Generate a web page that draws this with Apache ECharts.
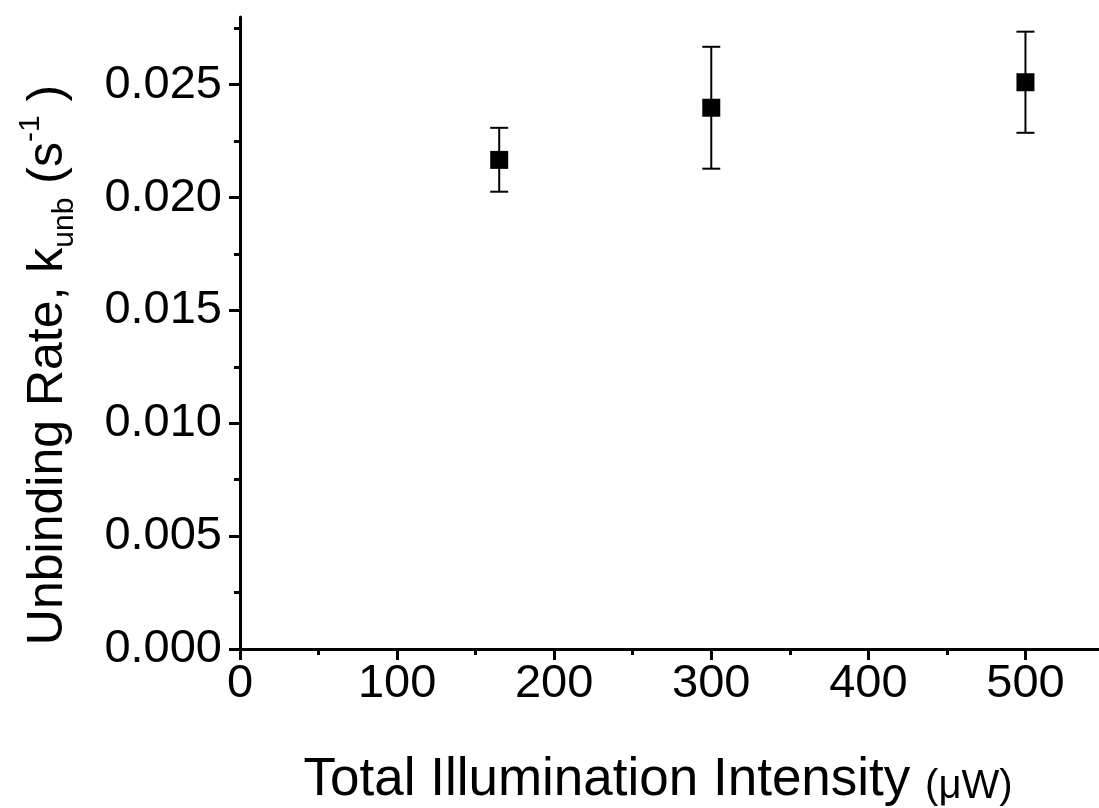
<!DOCTYPE html>
<html style="height: 100%">
<head>
    <meta charset="utf-8">
    <script src="https://cdn.jsdelivr.net/npm/echarts@6/dist/echarts.min.js"></script>
    <title>Unbinding Rate vs Illumination Intensity</title>
</head>
<body style="height: 100%; margin: 0; background: #fff">
<div id="container" style="width: 1099px; height: 808px"></div>
<script type="text/javascript">
    // values
    let intensity = [165, 300, 500];            // uW
    let rate      = [0.02167, 0.02398, 0.02511]; // s^-1
    let rateLow   = [0.02026, 0.02128, 0.02287];
    let rateHigh  = [0.02309, 0.02668, 0.02735];

    // tick labels
    let xTicks = [0, 100, 200, 300, 400, 500];
    let yTicks = [0, 0.005, 0.010, 0.015, 0.020, 0.025];

    let font = '"Liberation Sans", Arial, sans-serif';

    let points = intensity.map((x, i) => [x, rate[i]]);
    let bars = intensity.map((x, i) => [x, rateLow[i], rateHigh[i]]);

    let dom = document.getElementById("container");
    let chart = echarts.init(dom);
    chart.setOption({
        animation: false,
        grid: {left: 240, right: -5, top: 17, bottom: 159, containLabel: false, outerBoundsMode: 'none'},
        xAxis: {
            type: 'value',
            min: 0, max: 550, interval: 100,
            name: '{a|Total Illumination Intensity }{b|(\u03bcW)}',
            nameLocation: 'middle',
            nameGap: 98,
            nameTextStyle: {
                padding: [0, 28, 0, 0],
                rich: {
                    a: {fontFamily: font, fontSize: 53, color: '#000', verticalAlign: 'bottom', lineHeight: 60},
                    b: {fontFamily: font, fontSize: 40, color: '#000', verticalAlign: 'bottom', lineHeight: 56}
                }
            },
            axisLine: {lineStyle: {color: '#000', width: 3}},
            axisTick: {length: 11, customValues: xTicks, lineStyle: {color: '#000', width: 3}},
            minorTick: {show: true, splitNumber: 2, length: 6, lineStyle: {color: '#000', width: 3}},
            axisLabel: {customValues: xTicks, fontFamily: font, fontSize: 47, color: '#000', margin: 12},
            splitLine: {show: false}
        },
        yAxis: {
            type: 'value',
            min: 0, max: 0.028, interval: 0.005,
            name: '{a|Unbinding Rate, k}{sub|unb}{a| (s}{sup|-1}{a| )}',
            nameLocation: 'middle',
            nameGap: 160,
            nameTextStyle: {
                padding: [0, 64, 0, 0],
                rich: {
                    a: {fontFamily: font, fontSize: 50, color: '#000', lineHeight: 64, verticalAlign: 'middle'},
                    sub: {fontFamily: font, fontSize: 30, color: '#000', lineHeight: 64, verticalAlign: 'bottom'},
                    sup: {fontFamily: font, fontSize: 30, color: '#000', lineHeight: 64, verticalAlign: 'top'}
                }
            },
            axisLine: {show: true, lineStyle: {color: '#000', width: 3}},
            axisTick: {show: true, length: 11, customValues: yTicks, lineStyle: {color: '#000', width: 3}},
            minorTick: {show: true, splitNumber: 2, length: 6, lineStyle: {color: '#000', width: 3}},
            axisLabel: {
                customValues: yTicks,
                fontFamily: font, fontSize: 47, color: '#000', margin: 18,
                formatter: v => v.toFixed(3)
            },
            splitLine: {show: false}
        },
        series: [
            {
                type: 'custom',
                data: bars,
                z: 2,
                renderItem: function (params, api) {
                    let lo = api.coord([api.value(0), api.value(1)]);
                    let hi = api.coord([api.value(0), api.value(2)]);
                    let w = 9;
                    let style = {stroke: '#000', lineWidth: 2};
                    return {
                        type: 'group',
                        children: [
                            {type: 'line', shape: {x1: lo[0], y1: lo[1], x2: hi[0], y2: hi[1]}, style: style},
                            {type: 'line', shape: {x1: lo[0] - w, y1: lo[1], x2: lo[0] + w, y2: lo[1]}, style: style},
                            {type: 'line', shape: {x1: hi[0] - w, y1: hi[1], x2: hi[0] + w, y2: hi[1]}, style: style}
                        ]
                    };
                }
            },
            {
                type: 'scatter',
                data: points,
                z: 3,
                symbol: 'rect',
                symbolSize: 18,
                itemStyle: {color: '#000', opacity: 1}
            }
        ]
    }, true);
</script>
</body>
</html>
